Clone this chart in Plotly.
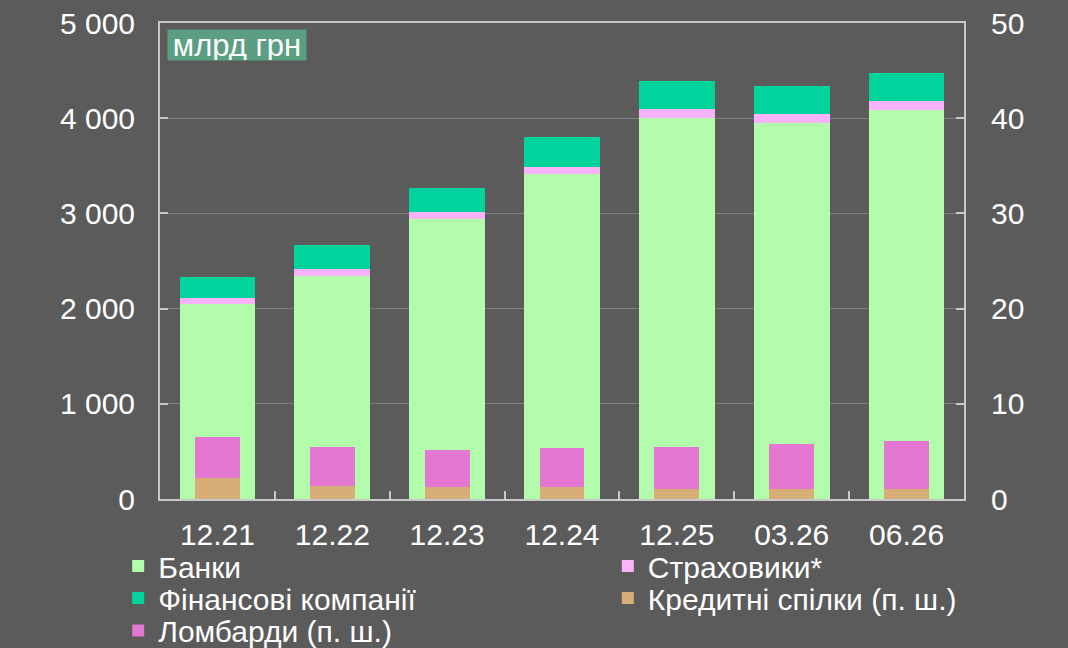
import plotly.graph_objects as go

periods = ["12.21", "12.22", "12.23", "12.24", "12.25", "03.26", "06.26"]

# left axis, bn UAH
banks = [2050, 2345, 2939, 3413, 4005, 3950, 4082]
insurers = [64, 71, 80, 73, 92, 98, 102]
fin_companies = [214, 249, 253, 316, 295, 295, 292]

# right axis, bn UAH
credit_unions = [2.23, 1.32, 1.24, 1.21, 1.10, 1.07, 1.03]
pawnshops = [4.27, 4.10, 3.86, 4.18, 4.32, 4.70, 5.02]

BG = "#5b5b5b"
FRAME = "#c8c8c8"
FONT = "Liberation Sans, Arial, sans-serif"

# legend slot per series: (legend id, x, y) in paper units, two columns x three rows
legend_slots = {
    "Банки": ("legend", -0.052, -0.141),
    "Страховики*": ("legend2", 0.557, -0.141),
    "Фінансові компанії": ("legend3", -0.052, -0.208),
    "Кредитні спілки (п. ш.)": ("legend4", 0.557, -0.208),
    "Ломбарди (п. ш.)": ("legend5", -0.052, -0.276),
}

fig = go.Figure()

wide = [
    ("Банки", banks, "#b3fcac"),
    ("Страховики*", insurers, "#f9b3f9"),
    ("Фінансові компанії", fin_companies, "#00d49c"),
]
for name, vals, color in wide:
    fig.add_trace(go.Bar(
        x=periods, y=vals, name=name, width=0.66,
        marker={"color": color, "line": {"width": 0}},
        yaxis="y", legend=legend_slots[name][0], showlegend=True,
    ))

narrow = [
    ("Кредитні спілки (п. ш.)", credit_unions, "#d7ae78"),
    ("Ломбарди (п. ш.)", pawnshops, "#e377d1"),
]
for name, vals, color in narrow:
    fig.add_trace(go.Bar(
        x=periods, y=vals, name=name, width=0.39,
        marker={"color": color, "line": {"width": 0}},
        yaxis="y2", legend=legend_slots[name][0], showlegend=True,
    ))

axis_common = dict(
    showline=True, linecolor=FRAME, linewidth=2,
    ticks="inside", tickcolor=FRAME, tickwidth=2, ticklen=8,
    tickfont={"size": 30, "color": "white", "family": FONT},
    zeroline=False,
)

legends = {}
for lid, lx, ly in legend_slots.values():
    legends[lid] = dict(
        x=lx, xanchor="left", y=ly, yanchor="middle",
        font={"size": 30, "color": "white", "family": FONT},
        bgcolor="rgba(0,0,0,0)", itemclick=False, itemdoubleclick=False,
    )

fig.update_layout(
    width=1068, height=648,
    paper_bgcolor=BG, plot_bgcolor=BG,
    font={"family": FONT, "color": "white"},
    separators=", ",
    barmode="stack",
    showlegend=True,
    margin={"l": 160, "r": 104, "t": 23, "b": 149, "autoexpand": False},
    xaxis=dict(
        axis_common, type="category", tickson="boundaries",
        mirror=True, showgrid=False, ticklabelstandoff=8,
    ),
    yaxis=dict(
        axis_common, range=[0, 5000], dtick=1000, tickformat=",.0f",
        mirror=True, showgrid=True, gridcolor="#7f7f7f", gridwidth=1,
        ticklabelstandoff=17,
    ),
    yaxis2=dict(
        axis_common, range=[0, 50], dtick=10, overlaying="y", side="right",
        showgrid=False, ticklabelstandoff=19,
    ),
    annotations=[dict(
        text="млрд грн", xref="paper", yref="paper", x=0.0087, y=0.9874,
        xanchor="left", yanchor="top", showarrow=False,
        width=138, height=30, borderpad=0,
        font={"size": 31, "color": "white", "family": FONT},
        bgcolor="#5c9e82",
    )],
    **legends,
)

fig.write_html(
    "out.html",
    config={"displayModeBar": False},
    post_script="document.body.style.margin='0px';",
)
